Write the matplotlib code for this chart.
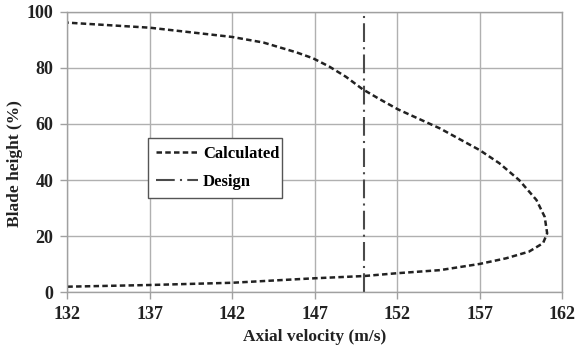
import matplotlib.pyplot as plt

plt.rcParams['font.family'] = ['Liberation Serif', 'DejaVu Serif']
plt.rcParams['font.weight'] = 'bold'

# calculated axial velocity along the blade height (root -> tip -> back)
axial_velocity = [132.0, 137.0, 142.0, 147.0, 150.0, 152.0, 154.6, 157.0, 158.6,
                  160.0, 160.85, 161.1, 160.95, 160.45, 159.4, 158.2, 157.0,
                  154.6, 152.05, 150.95, 149.9, 148.9, 147.9, 146.9, 145.9,
                  143.9, 142.0, 137.0, 132.0]
blade_height = [2.0, 2.6, 3.4, 5.0, 5.8, 6.8, 7.9, 10.1, 12.1,
                14.5, 17.5, 21.0, 26.9, 32.9, 40.0, 46.0, 50.7,
                58.4, 65.2, 68.8, 72.4, 76.8, 80.4, 83.4, 85.5,
                89.0, 91.0, 94.3, 96.1]
design_velocity = 150
design_height = [0, 100]

x_ticks = [132, 137, 142, 147, 152, 157, 162]
y_ticks = [0, 20, 40, 60, 80, 100]

fig = plt.figure(figsize=(5.75, 3.48), dpi=100)
ax = fig.add_axes([67.3 / 575, 1 - 292.3 / 348, 494.7 / 575, 280.6 / 348])

ax.plot(axial_velocity, blade_height, color='#222222', lw=1.8,
        linestyle=(0, (2.2, 1.3)), label='Calculated')
ax.plot([design_velocity, design_velocity], design_height, color='#4a4a4a', lw=1.5,
        linestyle=(0, (9, 2.5, 1, 2.5)), label='Design')

ax.set_xlim(132, 162)
ax.set_ylim(0, 100)
ax.set_xticks(x_ticks)
ax.set_yticks(y_ticks)
ax.grid(True, color='#b0b0b0', lw=1.0)
ax.set_axisbelow(True)
for s in ax.spines.values():
    s.set_color('#a0a0a0')
    s.set_linewidth(1.0)
ax.tick_params(colors='#a0a0a0', length=5, width=1.0, labelcolor='#222222',
               labelsize=13, pad=5)
for lbl in ax.get_xticklabels() + ax.get_yticklabels():
    lbl.set_fontweight('bold')

ax.set_xlabel('Axial velocity (m/s)', fontsize=12.5, fontweight='bold',
              color='#222222', labelpad=4)
ax.set_ylabel('Blade height (%)', fontsize=12.5, fontweight='bold',
              color='#222222')
ax.yaxis.set_label_coords(-0.09, 0.46)

leg = ax.legend(loc='lower left', bbox_to_anchor=(0.163, 0.336, 0.271, 0.225),
                mode='expand', borderaxespad=0, fancybox=False,
                edgecolor='#555555', framealpha=1, handlelength=2.5,
                handletextpad=0.3, borderpad=0.5, labelspacing=0.7,
                prop={'family': 'Liberation Serif', 'weight': 'bold', 'size': 12})
leg.get_frame().set_linewidth(1.0)

fig.savefig('out.png', dpi=100)
